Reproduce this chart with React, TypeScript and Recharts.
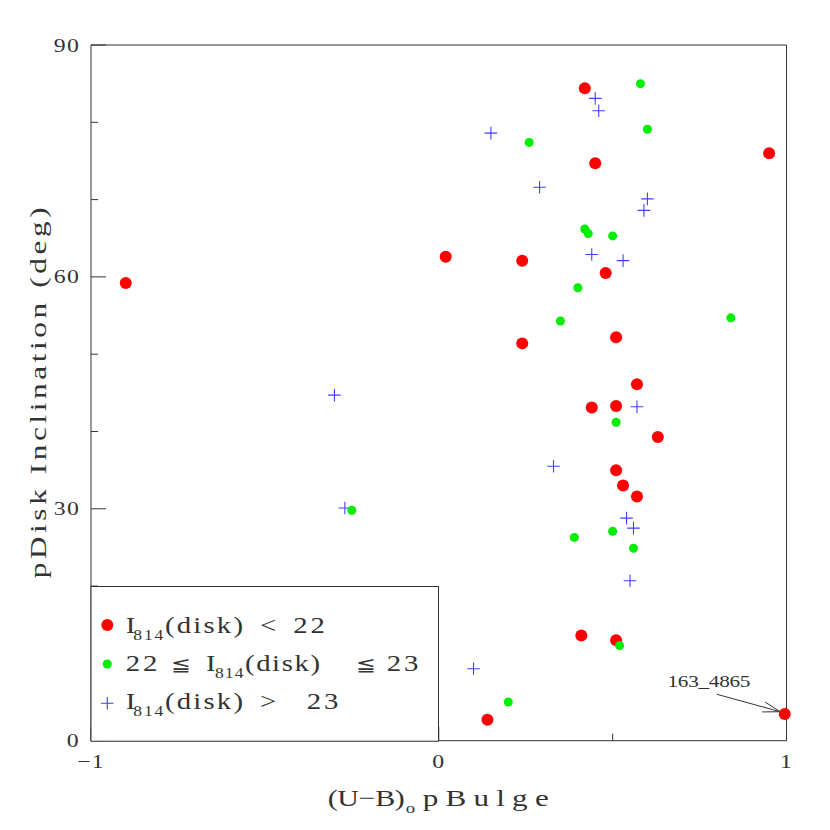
import React from 'react';
import { ScatterChart, Scatter, XAxis, YAxis, ReferenceLine, Legend } from 'recharts';

// ---- data ----
const brightX = [0.42, 0.45, 0.95, 0.02, 0.24, 0.48, -0.90, 0.51, 0.24, 0.57, 0.44, 0.51, 0.63, 0.51, 0.53, 0.57, 0.41, 0.51, 0.14, 0.995];
const brightY = [84.4, 74.7, 76.0, 62.6, 62.1, 60.5, 59.2, 52.2, 51.4, 46.1, 43.1, 43.3, 39.3, 35.0, 33.0, 31.6, 13.6, 13.0, 2.7, 3.45];

const midX = [0.58, 0.60, 0.26, 0.42, 0.43, 0.50, 0.40, 0.35, 0.84, 0.51, -0.25, 0.50, 0.39, 0.56, 0.52, 0.20];
const midY = [85.0, 79.1, 77.4, 66.2, 65.6, 65.3, 58.6, 54.3, 54.7, 41.2, 29.8, 27.1, 26.3, 24.9, 12.3, 5.0];

const faintX = [0.45, 0.46, 0.15, 0.29, 0.60, 0.59, 0.44, 0.53, -0.30, 0.57, 0.33, -0.27, 0.54, 0.56, 0.55, 0.10];
const faintY = [83.1, 81.5, 78.6, 71.6, 70.1, 68.6, 62.9, 62.1, 44.7, 43.2, 35.5, 30.1, 28.8, 27.5, 20.7, 9.3];

const xTicks = [-1, -0.5, 0, 0.5, 1];
const xMajor = [-1, 0, 1];
const xTickLabels = ['−1', '0', '1'];
const yTicks = [0, 10, 20, 30, 40, 50, 60, 70, 80, 90];
const yMajor = [0, 30, 60, 90];
const yTickLabels = ['0', '30', '60', '90'];

const annotationLabel = '163_4865';
const annotationFrom = { x: 0.80, y: 6.0 };
const annotationTo = { x: 0.982, y: 3.75 };

const toPoints = (xs: number[], ys: number[]) => xs.map((x, i) => ({ x, y: ys[i] }));
const brightPts = toPoints(brightX, brightY);
const midPts = toPoints(midX, midY);
const faintPts = toPoints(faintX, faintY);

// ---- styles ----
const FONT = "'Liberation Serif', 'DejaVu Serif', serif";
const AXIS = '#333';
const TEXT = '#333';
const RED = '#ff0000';
const GREEN = '#00ee00';
const BLUE = '#4040ff';

// text widened horizontally; len = target rendered length (optional)
const Wide = ({ x, y, size, len, rot, anchor = 'start', ls = 0, sx = 1.25, children }: any) => (
  <text
    transform={`translate(${x} ${y})${rot ? ' rotate(-90)' : ''} scale(${sx} 1)`}
    x={0}
    y={0}
    fontSize={size}
    fontFamily={FONT}
    fill={TEXT}
    textAnchor={anchor}
    letterSpacing={len ? undefined : ls}
    textLength={len ? len / sx : undefined}
    lengthAdjust={len ? 'spacing' : undefined}
  >
    {children}
  </text>
);

const RedDot = (p: any) => <circle cx={p.cx} cy={p.cy} r={6} fill={RED} />;
const GreenDot = (p: any) => <circle cx={p.cx} cy={p.cy} r={4.5} fill={GREEN} />;
const BluePlus = (p: any) => (
  <path
    d={`M${p.cx - 6.3},${p.cy}H${p.cx + 6.3}M${p.cx},${p.cy - 6.3}V${p.cy + 6.3}`}
    stroke={BLUE}
    strokeWidth={1.1}
    fill="none"
  />
);

const BottomTick = (p: any) => {
  const v = p.payload.value;
  const mi = xMajor.indexOf(v);
  const major = mi >= 0;
  return (
    <g>
      <line x1={p.x} x2={p.x} y1={p.y} y2={p.y - (major ? 14 : 7)} stroke={AXIS} />
      {major && <Wide x={p.x} y={p.y + 27} size={19} anchor="middle" ls={1}>{xTickLabels[mi]}</Wide>}
    </g>
  );
};
const TopTick = (p: any) => {
  const major = xMajor.indexOf(p.payload.value) >= 0;
  return <line x1={p.x} x2={p.x} y1={p.y} y2={p.y + (major ? 14 : 7)} stroke={AXIS} />;
};
const LeftTick = (p: any) => {
  const v = p.payload.value;
  const mi = yMajor.indexOf(v);
  const major = mi >= 0;
  return (
    <g>
      <line x1={p.x} x2={p.x + (major ? 15 : 7)} y1={p.y} y2={p.y} stroke={AXIS} />
      {major && <Wide x={p.x - 11} y={p.y + 6.5} size={19} anchor="end" ls={1}>{yTickLabels[mi]}</Wide>}
    </g>
  );
};
const RightTick = (p: any) => {
  const major = yMajor.indexOf(p.payload.value) >= 0;
  return <line x1={p.x} x2={p.x - (major ? 15 : 7)} y1={p.y} y2={p.y} stroke={AXIS} />;
};

const XTitle = (props: any) => {
  const vb = props.viewBox || {};
  const cx = vb.x + vb.width / 2;
  const y = vb.y + vb.height + 64;
  return (
    <g>
      <Wide x={cx - 111} y={y} size={24} sx={1.25} len={77}>(U−B)</Wide>
      <Wide x={cx - 33} y={y + 7} size={15} sx={1.25}>o</Wide>
      <Wide x={cx - 16} y={y} size={24} sx={1.3} len={126}>pBulge</Wide>
    </g>
  );
};

const YTitle = (props: any) => {
  const vb = props.viewBox || {};
  const cy = vb.y + vb.height / 2;
  const x = vb.x + vb.width - 45;
  return <Wide x={x} y={cy} size={24} sx={1.3} rot anchor="middle" len={371}>pDisk Inclination (deg)</Wide>;
};

const Arrow = (p: any) => {
  const { x1, y1, x2, y2 } = p;
  const ang = Math.atan2(y2 - y1, x2 - x1);
  const L = 18;
  const a1 = ang + Math.PI - 0.28;
  const a2 = ang + Math.PI + 0.3;
  return (
    <g>
      <line x1={x1} y1={y1} x2={x2} y2={y2} stroke={AXIS} strokeWidth={1} />
      <line x1={x2} y1={y2} x2={x2 + L * Math.cos(a1)} y2={y2 + L * Math.sin(a1)} stroke={AXIS} />
      <line x1={x2} y1={y2} x2={x2 + L * Math.cos(a2)} y2={y2 + L * Math.sin(a2)} stroke={AXIS} />
      <Wide x={x1 - 8} y={y1 - 7} size={17} anchor="middle" len={83}>{annotationLabel}</Wide>
    </g>
  );
};

const legendRows = ['red', 'green', 'blue'];

const LegendBox = () => {
  const W = 347.5;
  const H = 154.7;
  const rowY = [46.7, 84.7, 123];
  const markY = [39, 78, 117.3];
  const mx = 16.3;
  return (
    <svg width={W + 1} height={H + 1} style={{ display: 'block', overflow: 'visible' }}>
      <rect x={0} y={0.5} width={W} height={H} fill="#fff" stroke={AXIS} strokeWidth={1} />
      {legendRows.map((k, i) => {
        const cy = markY[i];
        if (k === 'red') return <circle key={i} cx={mx} cy={cy} r={6} fill={RED} />;
        if (k === 'green') return <circle key={i} cx={mx} cy={cy} r={4.5} fill={GREEN} />;
        return <BluePlus key={i} cx={mx} cy={cy} />;
      })}
      {/* row 1 */}
      <Wide x={34.7} y={rowY[0]} size={23}>I</Wide>
      <Wide x={42.3} y={rowY[0] + 7} size={14} len={30}>814</Wide>
      <Wide x={74} y={rowY[0]} size={23} len={78}>(disk)</Wide>
      <Wide x={169} y={rowY[0]} size={23}>&lt;</Wide>
      <Wide x={202.3} y={rowY[0]} size={23} len={31.7}>22</Wide>
      {/* row 2 */}
      <Wide x={34.7} y={rowY[1]} size={23} len={31.7}>22</Wide>
      <Wide x={79.7} y={rowY[1]} size={19}>≦</Wide>
      <Wide x={115} y={rowY[1]} size={23}>I</Wide>
      <Wide x={124} y={rowY[1] + 7} size={14} len={28.5}>814</Wide>
      <Wide x={154} y={rowY[1]} size={23} len={75}>(disk)</Wide>
      <Wide x={265} y={rowY[1]} size={19}>≦</Wide>
      <Wide x={295.7} y={rowY[1]} size={23} len={31.7}>23</Wide>
      {/* row 3 */}
      <Wide x={34.7} y={rowY[2]} size={23}>I</Wide>
      <Wide x={42.3} y={rowY[2] + 7} size={14} len={30}>814</Wide>
      <Wide x={74} y={rowY[2]} size={23} len={78}>(disk)</Wide>
      <Wide x={169} y={rowY[2]} size={23}>&gt;</Wide>
      <Wide x={215.7} y={rowY[2]} size={23} len={31.7}>23</Wide>
    </svg>
  );
};

export default function App() {
  return (
    <div style={{ position: 'absolute', left: 0, top: 0, width: 830, height: 830, background: '#fff' }}>
      <ScatterChart width={830} height={830} margin={{ top: 44, right: 42.5, bottom: 88.3, left: 90 }}>
        <XAxis
          xAxisId="b"
          dataKey="x"
          type="number"
          domain={[-1, 1]}
          ticks={xTicks}
          interval={0}
          height={1}
          tickLine={false}
          tickSize={0}
          tickMargin={0}
          tick={BottomTick}
          axisLine={{ stroke: AXIS }}
          label={XTitle}
        />
        <XAxis
          xAxisId="t"
          orientation="top"
          type="number"
          domain={[-1, 1]}
          ticks={xTicks}
          interval={0}
          height={1}
          tickLine={false}
          tickSize={0}
          tickMargin={0}
          tick={TopTick}
          axisLine={{ stroke: AXIS }}
        />
        <YAxis
          yAxisId="l"
          dataKey="y"
          type="number"
          domain={[0, 90]}
          ticks={yTicks}
          interval={0}
          width={1}
          tickLine={false}
          tickSize={0}
          tickMargin={0}
          tick={LeftTick}
          axisLine={{ stroke: AXIS }}
          label={YTitle}
        />
        <YAxis
          yAxisId="r"
          orientation="right"
          type="number"
          domain={[0, 90]}
          ticks={yTicks}
          interval={0}
          width={1}
          tickLine={false}
          tickSize={0}
          tickMargin={0}
          tick={RightTick}
          axisLine={{ stroke: AXIS }}
        />
        <Legend
          layout="horizontal"
          verticalAlign="middle"
          align="center"
          content={() => <LegendBox />}
          wrapperStyle={{ position: 'absolute', left: 91, top: 586, width: 349, height: 156 }}
        />
        <Scatter xAxisId="b" yAxisId="l" data={brightPts} shape={RedDot} isAnimationActive={false} />
        <Scatter xAxisId="b" yAxisId="l" data={faintPts} shape={BluePlus} isAnimationActive={false} />
        <Scatter xAxisId="b" yAxisId="l" data={midPts} shape={GreenDot} isAnimationActive={false} />
        <ReferenceLine
          xAxisId="b"
          yAxisId="l"
          segment={[annotationFrom, annotationTo]}
          ifOverflow="visible"
          shape={Arrow}
        />
      </ScatterChart>
    </div>
  );
}
